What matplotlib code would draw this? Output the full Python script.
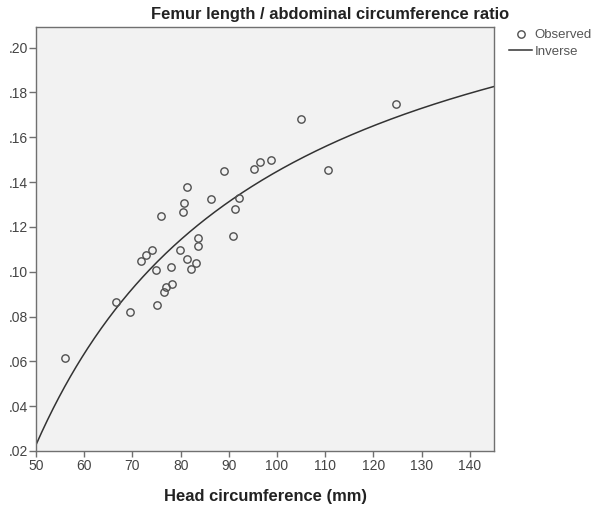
import numpy as np
import matplotlib
matplotlib.use("Agg")
import matplotlib.pyplot as plt

plt.rcParams['font.family'] = ['Liberation Sans', 'DejaVu Sans']

# Observed data: head circumference (mm) vs FL/AC ratio
head_circ = [56.0, 66.5, 69.4, 75.1, 76.6, 77.0, 78.2, 74.9, 77.9, 82.2,
             83.1, 81.4, 71.8, 72.9, 74.1, 79.9, 83.7, 83.5, 90.9, 76.0,
             80.4, 80.8, 81.25, 86.3, 91.3, 92.1, 89.0, 95.2, 96.4, 98.7,
             105.0, 110.5, 124.6]
ratio = [0.0614, 0.0866, 0.0820, 0.0853, 0.0908, 0.0932, 0.0945, 0.1006, 0.1022, 0.1012,
         0.1039, 0.1057, 0.1050, 0.1075, 0.1096, 0.1096, 0.1114, 0.1151, 0.1158, 0.1250,
         0.1268, 0.1306, 0.1377, 0.1326, 0.1280, 0.1329, 0.1451, 0.1457, 0.1490, 0.1500,
         0.1683, 0.1454, 0.1749]

# Inverse model: y = b0 + b1 / x
b0 = 0.2668
b1 = -12.203

xticks = [50, 60, 70, 80, 90, 100, 110, 120, 130, 140]
yticks = [0.02, 0.04, 0.06, 0.08, 0.10, 0.12, 0.14, 0.16, 0.18, 0.20]
ytick_labels = ['.02', '.04', '.06', '.08', '.10', '.12', '.14', '.16', '.18', '.20']

fig = plt.figure(figsize=(5.92, 5.08), dpi=100)
ax = fig.add_axes([36/592, 57/508, 458/592, 424/508])
ax.set_facecolor('#f2f2f2')

ax.plot(head_circ, ratio, linestyle='none', marker='o', markersize=5.3,
        markerfacecolor='none', markeredgecolor='#505050', markeredgewidth=1.0,
        label='Observed', zorder=3)

xs = np.linspace(50, 145, 400)
ax.plot(xs, b0 + b1 / xs, color='#333333', linewidth=1.1, label='Inverse', zorder=2)

ax.set_xlim(50, 145)
ax.set_ylim(0.02, 0.2092)
ax.set_xticks(xticks)
ax.set_yticks(yticks)
ax.set_yticklabels(ytick_labels)

for s in ax.spines.values():
    s.set_color('#707070')
    s.set_linewidth(1.0)

ax.tick_params(axis='x', length=4, width=1, color='#707070', pad=2,
               labelsize=10, labelcolor='#444444')
ax.tick_params(axis='y', length=5, width=1, color='#707070', pad=0.5,
               labelsize=10, labelcolor='#444444')

fig.text(330/592, 1 - 15/508, 'Femur length / abdominal circumference ratio',
         ha='center', va='center', fontsize=11.9, fontweight='bold', color='#222222')
fig.text(265/592, 1 - 497/508, 'Head circumference (mm)',
         ha='center', va='center', fontsize=11.9, fontweight='bold', color='#222222')

leg = fig.legend(loc='upper left', bbox_to_anchor=(509/592, 1 - 29/508),
                 frameon=False, fontsize=9.5, handlelength=1.75, handletextpad=0.2,
                 labelspacing=0.35, borderaxespad=0, borderpad=0)
for t in leg.get_texts():
    t.set_color('#555555')

fig.savefig('out.png', dpi=100)
